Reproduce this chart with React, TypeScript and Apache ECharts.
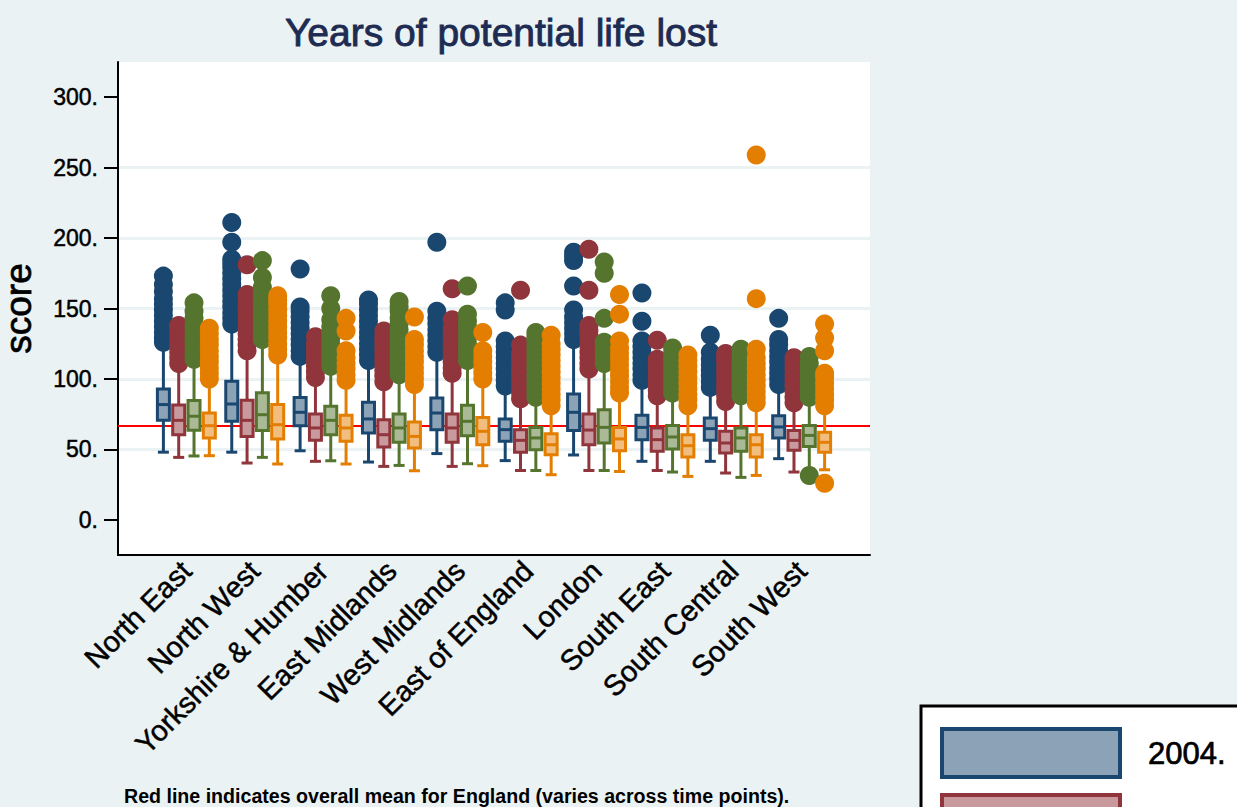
import React, { useEffect, useRef } from "react";
import * as echarts from "echarts";

const regions = [
  "North East", "North West", "Yorkshire & Humber", "East Midlands", "West Midlands",
  "East of England", "London", "South East", "South Central", "South West",
];
const years = ["2004", "2007", "2010", "2013"];
const yTicks = [0, 50, 100, 150, 200, 250, 300];
const englandMean = 66.8;

// [low whisker, Q1, median, Q3, high whisker] per region
const stats2004 = [
  [48, 70.6, 81.8, 92.9, 124], [48, 69.9, 82.2, 98.3, 137], [49, 66.8, 76.3, 86.9, 114],
  [41, 61.6, 71.6, 83.4, 111], [47, 64, 75.8, 86.5, 117], [42, 55.7, 64, 71.6, 93],
  [46, 63.3, 76.3, 89.3, 126], [41.5, 56.9, 65.6, 74.2, 97], [41.5, 56.4, 64.7, 72.3, 92],
  [43.4, 58.1, 65.9, 73.9, 94],
];
const stats2007 = [
  [44.3, 60.4, 70.6, 81.5, 109], [40.3, 59.2, 70.6, 84.8, 118], [41.5, 56.4, 65.2, 75.1, 99],
  [37.9, 51.7, 60.4, 71.1, 96], [37.9, 55, 65.2, 75.1, 102], [35, 47.9, 56.4, 64, 84],
  [35, 53.3, 63.7, 75.1, 105], [35, 48.6, 56.9, 65.2, 86], [33.2, 47.4, 54.5, 62.8, 82],
  [33.9, 49.3, 56.4, 63.3, 81],
];
const stats2010 = [
  [45.3, 63.5, 73.5, 84.6, 112], [44.3, 63.3, 74.6, 90.1, 126], [41.9, 60.4, 70.6, 80.6, 107],
  [38.6, 55, 65.2, 75.1, 101], [39.8, 59.7, 69.9, 81.3, 111], [35, 49.8, 58.1, 65.6, 85],
  [35, 54.5, 65.6, 78.2, 109], [33.9, 50.3, 58.8, 67, 88], [30.1, 48.6, 58.1, 65.2, 86],
  [36, 52.1, 59.9, 67, 85],
];
const stats2013 = [
  [45.5, 58.1, 66.8, 75.8, 98], [39.6, 57.4, 67.5, 81.8, 115], [39.6, 55.7, 65.2, 74.2, 97],
  [34.8, 51, 59.2, 69.4, 94], [38.4, 53.3, 62.8, 72.7, 98], [32, 46.2, 53.3, 61.1, 79],
  [34.3, 49, 57.4, 65.6, 88], [30.8, 44.6, 52.6, 60.4, 79], [31.5, 44.6, 53.3, 60.4, 81],
  [35.5, 47.9, 55, 62.1, 79],
];

// outliers per region
const out2004 = [
  [126, 129, 133, 137, 141, 145, 149, 153, 157, 162, 167, 173],
  [139, 143, 147, 151, 155, 159, 163, 167, 171, 175, 179, 182, 185, 197, 211],
  [116, 120, 124, 128, 132, 136, 140, 144, 148, 151, 178],
  [113, 117, 121, 125, 129, 133, 137, 141, 145, 149, 153, 156],
  [119, 123, 127, 131, 135, 139, 143, 148, 197],
  [95, 99, 103, 107, 111, 115, 119, 123, 127, 149, 154],
  [128, 132, 136, 140, 144, 149, 166, 184, 187, 190],
  [99, 103, 107, 111, 115, 119, 123, 127, 141, 161],
  [94, 98, 102, 106, 110, 114, 119, 131],
  [96, 100, 104, 108, 112, 116, 120, 124, 128, 143],
];
const out2007 = [
  [111, 115, 119, 123, 127, 131, 135, 138],
  [120, 124, 128, 132, 136, 140, 144, 148, 152, 156, 160, 181],
  [101, 105, 109, 113, 117, 121, 125, 130],
  [98, 102, 106, 110, 114, 118, 122, 126, 130, 134],
  [104, 108, 112, 116, 120, 124, 128, 132, 136, 142, 164],
  [86, 90, 94, 98, 102, 106, 110, 114, 118, 124, 163],
  [107, 111, 115, 119, 123, 127, 131, 134, 138, 163, 192],
  [88, 92, 96, 100, 104, 108, 111, 114, 127.5],
  [84, 88, 92, 96, 100, 104, 108, 112, 115, 118],
  [83, 87, 91, 95, 99, 103, 107, 111, 115],
];
const out2010 = [
  [114, 118, 122, 126, 130, 134, 138, 143, 148, 154],
  [128, 132, 136, 140, 144, 148, 152, 156, 160, 165, 172, 184],
  [109, 113, 117, 121, 125, 129, 133, 137, 142, 150, 159],
  [103, 107, 111, 115, 119, 123, 127, 131, 135, 139, 143, 148, 151, 155],
  [113, 117, 121, 125, 129, 133, 137, 141, 146, 166],
  [87, 91, 95, 99, 103, 107, 111, 115, 119, 123, 127, 130, 133],
  [111, 115, 119, 123, 126, 143, 175, 183],
  [90, 94, 98, 102, 106, 110, 114, 118, 122],
  [88, 92, 96, 100, 104, 108, 112, 116, 121],
  [31.5, 87, 91, 95, 99, 103, 107, 111, 116],
];
const out2013 = [
  [100, 104, 108, 112, 116, 120, 124, 128, 132, 136],
  [117, 121, 125, 129, 133, 137, 141, 145, 149, 153, 156, 159],
  [99, 103, 107, 111, 115, 120, 134, 143],
  [96, 100, 104, 108, 112, 116, 120, 124, 128, 144],
  [100, 104, 108, 112, 116, 120, 133],
  [81, 85, 89, 93, 97, 101, 105, 109, 113, 117, 121, 125, 131],
  [90, 94, 98, 102, 106, 110, 114, 118, 122, 127, 146, 160],
  [81, 85, 89, 93, 97, 101, 105, 109, 113, 117],
  [83, 87, 91, 95, 99, 103, 107, 111, 115, 121, 157, 259],
  [26, 81, 85, 89, 93, 97, 101, 104, 120, 129, 139],
];

const allStats = [stats2004, stats2007, stats2010, stats2013];
const allOut = [out2004, out2007, out2010, out2013];
const lineColors = ["#1a476f", "#90353b", "#55752f", "#e37e00"];
const fillColors = ["#8ca3b7", "#c89a9d", "#aaba97", "#f1be80"];
const offsets = [-0.336, -0.112, 0.112, 0.336];

const FONT = "'Liberation Sans', Arial, Helvetica, sans-serif";

function makeRender(lineColor: string, fillColor: string) {
  return (params: any, api: any) => {
    const x = api.value(0);
    const pLow = api.coord([x, api.value(1)]);
    const pQ1 = api.coord([x, api.value(2)]);
    const pMed = api.coord([x, api.value(3)]);
    const pQ3 = api.coord([x, api.value(4)]);
    const pHigh = api.coord([x, api.value(5)]);
    const cx = pMed[0];
    const hw = 6;
    const cw = 5.5;
    const ls = { stroke: lineColor, lineWidth: 3 };
    return {
      type: "group",
      children: [
        { type: "line", shape: { x1: cx, y1: pLow[1], x2: cx, y2: pQ1[1] }, style: ls },
        { type: "line", shape: { x1: cx, y1: pQ3[1], x2: cx, y2: pHigh[1] }, style: ls },
        { type: "line", shape: { x1: cx - cw, y1: pLow[1], x2: cx + cw, y2: pLow[1] }, style: ls },
        { type: "line", shape: { x1: cx - cw, y1: pHigh[1], x2: cx + cw, y2: pHigh[1] }, style: ls },
        {
          type: "rect",
          shape: { x: cx - hw, y: pQ3[1], width: hw * 2, height: pQ1[1] - pQ3[1] },
          style: { fill: fillColor, stroke: lineColor, lineWidth: 3 },
        },
        { type: "line", shape: { x1: cx - hw, y1: pMed[1], x2: cx + hw, y2: pMed[1] }, style: ls },
      ],
    };
  };
}

export default function App() {
  const ref = useRef<HTMLDivElement>(null);
  useEffect(() => {
    if (!ref.current) return;
    const chart = echarts.init(ref.current, undefined, { renderer: "svg" });

    const series: any[] = [];
    years.forEach((yr, k) => {
      series.push({
        name: yr,
        type: "custom",
        z: 2,
        renderItem: makeRender(lineColors[k], fillColors[k]),
        encode: { x: 0, y: [1, 2, 3, 4, 5] },
        data: allStats[k].map((s, i) => [i + offsets[k], ...s]),
        ...(k === 0
          ? {
              markLine: {
                z: 1,
                silent: true,
                symbol: ["none", "none"],
                label: { show: false },
                lineStyle: { color: "#ff0000", width: 2, type: "solid" },
                data: [{ yAxis: englandMean }],
              },
            }
          : {}),
      });
    });
    years.forEach((yr, k) => {
      const pts: number[][] = [];
      allOut[k].forEach((vals, i) => vals.forEach((v) => pts.push([i + offsets[k], v])));
      series.push({
        name: yr + " outliers",
        type: "scatter",
        z: 3,
        symbol: "circle",
        symbolSize: 19,
        itemStyle: { color: lineColors[k], opacity: 1 },
        data: pts,
      });
    });

    chart.setOption({
      animation: false,
      backgroundColor: "#eaf2f3",
      textStyle: { fontFamily: FONT },
      title: {
        text: "Years of potential life lost",
        left: 496,
        textAlign: "center",
        top: 8,
        textStyle: {
          fontFamily: FONT,
          fontSize: 39,
          fontWeight: "normal",
          color: "#1e2b52",
          textBorderColor: "#1e2b52",
          textBorderWidth: 0.9,
        },
      },
      grid: {
        left: 118,
        right: 367,
        top: 62,
        bottom: 252,
        show: true,
        backgroundColor: "#ffffff",
        borderWidth: 0,
        containLabel: false,
        outerBoundsMode: "none",
      },
      xAxis: {
        type: "value",
        min: -1,
        max: 10,
        interval: 1,
        axisLine: { show: true, onZero: false, lineStyle: { color: "#000", width: 2 } },
        axisTick: { show: false },
        splitLine: { show: false },
        axisLabel: {
          rotate: 45,
          margin: 11,
          fontSize: 29,
          color: "#000",
          fontFamily: FONT,
          textBorderColor: "#000",
          textBorderWidth: 0.5,
          formatter: (v: number) => (v >= 0 && v < regions.length ? regions[Math.round(v)] : ""),
        },
      },
      yAxis: {
        type: "value",
        min: -25,
        max: 325,
        splitNumber: 7,
        name: "score",
        nameLocation: "middle",
        nameGap: 84.5,
        nameTextStyle: {
          fontSize: 37,
          lineHeight: 30,
          color: "#000",
          fontFamily: FONT,
          textBorderColor: "#000",
          textBorderWidth: 0.7,
        },
        axisLine: { show: true, onZero: false, lineStyle: { color: "#000", width: 2 } },
        axisTick: { show: true, length: 14, customValues: yTicks, lineStyle: { color: "#000", width: 2 } },
        splitLine: { show: true, showMinLine: false, showMaxLine: false, lineStyle: { color: "#eaf2f3", width: 3 } },
        axisLabel: {
          margin: 20,
          fontSize: 23,
          color: "#000",
          fontFamily: FONT,
          textBorderColor: "#000",
          textBorderWidth: 0.5,
          customValues: yTicks,
          formatter: (v: number) => (v % 50 === 0 && v >= 0 && v <= 300 ? v + "." : ""),
        },
      },
      graphic: [
        {
          type: "text",
          left: 124,
          top: 786,
          style: {
            text: "Red line indicates overall mean for England (varies across time points).",
            font: `bold 19.6px ${FONT}`,
            lineHeight: 19,
            fill: "#000",
          },
        },
        {
          type: "rect",
          shape: { x: 921, y: 706, width: 340, height: 160 },
          style: { fill: "#ffffff", stroke: "#000", lineWidth: 3 },
        },
        {
          type: "rect",
          shape: { x: 942, y: 729, width: 178, height: 48 },
          style: { fill: fillColors[0], stroke: lineColors[0], lineWidth: 4 },
        },
        {
          type: "text",
          x: 1148,
          y: 753,
          style: {
            text: "2004.",
            font: `31px ${FONT}`,
            fill: "#000",
            stroke: "#000",
            lineWidth: 0.7,
            verticalAlign: "middle",
          },
        },
        {
          type: "rect",
          shape: { x: 942, y: 795, width: 178, height: 48 },
          style: { fill: fillColors[1], stroke: lineColors[1], lineWidth: 4 },
        },
        {
          type: "text",
          x: 1148,
          y: 819,
          style: {
            text: "2007.",
            font: `31px ${FONT}`,
            fill: "#000",
            stroke: "#000",
            lineWidth: 0.7,
            verticalAlign: "middle",
          },
        },
      ],
      series,
    });
    return () => chart.dispose();
  }, []);
  return (
    <div
      ref={ref}
      style={{ position: "fixed", left: 0, top: 0, width: 1237, height: 807 }}
    />
  );
}
